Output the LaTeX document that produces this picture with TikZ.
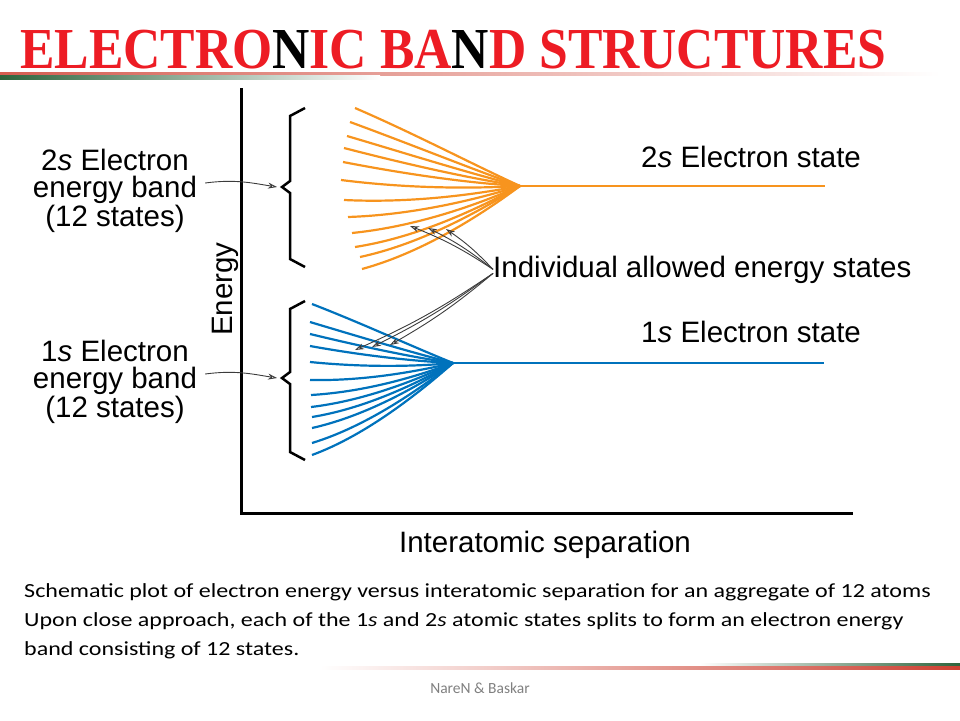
\documentclass[tikz,border=0pt]{standalone}
\usepackage{fontspec}
\setmainfont{Liberation Sans}
\newfontfamily\titlefont{Liberation Serif}
\newfontfamily\notefont{Carlito}
\usetikzlibrary{arrows.meta}

\definecolor{bandorange}{RGB}{247,148,30}
\definecolor{bandblue}{RGB}{0,114,188}
\definecolor{titlered}{RGB}{237,28,36}
\definecolor{barred}{RGB}{205,65,50}
\definecolor{bargreen}{RGB}{45,100,60}
\definecolor{pointergray}{RGB}{60,60,60}

\tikzset{
	band2/.style={bandorange, line width=2.2pt},
	band1/.style={bandblue, line width=2.2pt},
	bracket/.style={black, line width=2.5pt, line join=miter},
	axis/.style={black, line width=3pt},
	pointer/.style={pointergray, line width=0.9pt, -{Stealth[open, length=9pt, width=6pt]}},
	lbl/.style={inner sep=0pt, font=\fontsize{29.5}{27}\selectfont},
}

\begin{document}
\begin{tikzpicture}[x=1pt, y=-1pt]
		\useasboundingbox (0,0) rectangle (960,720);

		% title and bars
		\node[anchor=base west, inner sep=0pt, xscale=0.89, text=titlered, font=\titlefont\bfseries\fontsize{58}{58}\selectfont] (title) at (20,68) {ELECTRO\textcolor{black}{N}IC BA\textcolor{black}{N}D STRUCTURES};
		\shade[left color=barred!85, middle color=barred, right color=white] (0,72) rectangle (940,75);
		\shade[left color=bargreen, right color=white] (0,75) rectangle (380,79);
		\shade[left color=white, right color=bargreen] (700,663) rectangle (960,666);
		\shade[left color=white, middle color=barred!90, right color=barred] (320,666) rectangle (960,669);

		% axes
		\draw[axis] (241,88) -- (241,513) -- (853,513);
		\node[lbl, rotate=90] (energy) at (225,289) {Energy};
		\node[lbl] (sep) at (545,545) {Interatomic separation};

		% braces
		\coordinate (b2) at (282,187);
		\coordinate (b1) at (282,378);
		\draw[bracket] (305,108) -- (290,116) -- (290,181) -- (b2) -- (290,193) -- (290,259) -- (305,267);
		\draw[bracket] (305,301) -- (290,309) -- (290,372) -- (b1) -- (290,384) -- (290,452) -- (305,460);

		\node[lbl, align=center] (lab2) at (115,191) {2\textit{s} Electron\\energy band\\(12 states)};
		\node[lbl, align=center] (lab1) at (115,382) {1\textit{s} Electron\\energy band\\(12 states)};
		\draw[pointer] ([shift={(8,-8)}]lab2.east) .. controls +(30,-4) and +(-25,-4) .. ([xshift=-5pt]b2);
		\draw[pointer] ([shift={(8,-8)}]lab1.east) .. controls +(30,-4) and +(-25,-4) .. ([xshift=-5pt]b1);

		% 2s band
		\coordinate (o2) at (520,186);
		\draw[band2] (o2) -- (825,186);
		\draw[band2] (355,108) .. controls (413,133) and (470,163) .. (o2);
		\draw[band2] (350,122) .. controls (410,144) and (469,168) .. (o2);
		\draw[band2] (347,136) .. controls (408,154) and (468,173) .. (o2);
		\draw[band2] (344,148) .. controls (406,164) and (467,178) .. (o2);
		\draw[band2] (343,162) .. controls (405,174) and (467,183) .. (o2);
		\draw[band2] (341,180) .. controls (404,188) and (466,189) .. (o2);
		\draw[band2] (344,200) .. controls (406,203) and (467,196) .. (o2);
		\draw[band2] (348,217) .. controls (408,215) and (468,202) .. (o2);
		\draw[band2] (352,233) .. controls (411,227) and (470,208) .. (o2);
		\draw[band2] (355,247) .. controls (413,238) and (470,213) .. (o2);
		\draw[band2] (360,257) .. controls (416,245) and (472,216) .. (o2);
		\draw[band2] (362,269) .. controls (417,254) and (473,221) .. (o2);

		% 1s band
		\coordinate (o1) at (453,363);
		\draw[band1] (o1) -- (824,363);
		\draw[band1] (312,304) .. controls (361,323) and (411,346) .. (o1);
		\draw[band1] (310,322) .. controls (360,337) and (410,352) .. (o1);
		\draw[band1] (310,334) .. controls (360,346) and (410,357) .. (o1);
		\draw[band1] (310,346) .. controls (360,355) and (410,361) .. (o1);
		\draw[band1] (310,362) .. controls (360,367) and (410,367) .. (o1);
		\draw[band1] (310,380) .. controls (360,381) and (410,373) .. (o1);
		\draw[band1] (311,395) .. controls (361,392) and (410,379) .. (o1);
		\draw[band1] (311,407) .. controls (361,401) and (410,383) .. (o1);
		\draw[band1] (312,417) .. controls (361,409) and (411,387) .. (o1);
		\draw[band1] (312,428) .. controls (361,417) and (411,391) .. (o1);
		\draw[band1] (312,443) .. controls (361,428) and (411,396) .. (o1);
		\draw[band1] (312,455) .. controls (361,437) and (411,400) .. (o1);

		% state labels
		\node[lbl, anchor=base west] (st2) at (641,167) {2\textit{s} Electron state};
		\node[lbl, anchor=base west] (st1) at (641,342) {1\textit{s} Electron state};
		\node[lbl, anchor=base west] (ind) at (493,277) {Individual allowed energy states};

		\coordinate (u1) at (410,226);
		\coordinate (u2) at (428,228);
		\coordinate (u3) at (446,229);
		\coordinate (d1) at (355,350);
		\coordinate (d2) at (372,347);
		\coordinate (d3) at (390,345);
		\draw[pointer] (ind.west) to[bend right=6] (u1);
		\draw[pointer] (ind.west) to[bend right=6] (u2);
		\draw[pointer] (ind.west) to[bend right=6] (u3);
		\draw[pointer] ([yshift=-4pt]ind.west) to[bend left=5] (d1);
		\draw[pointer] ([yshift=-4pt]ind.west) to[bend left=5] (d2);
		\draw[pointer] ([yshift=-4pt]ind.west) to[bend left=5] (d3);

		% caption
		\node[anchor=north west, inner sep=0pt, align=left, xscale=1.2, font=\notefont\fontsize{20}{29}\selectfont] (note) at (24,583) {Schematic plot of electron energy versus interatomic separation for an aggregate of 12 atoms\\Upon close approach, each of the 1\textit{s} and 2\textit{s} atomic states splits to form an electron energy\\band consisting of 12 states.};
		\node[font=\notefont\fontsize{15.5}{16}\selectfont, text=gray] (foot) at (480,688) {NareN \& Baskar};
	\end{tikzpicture}
\end{document}
